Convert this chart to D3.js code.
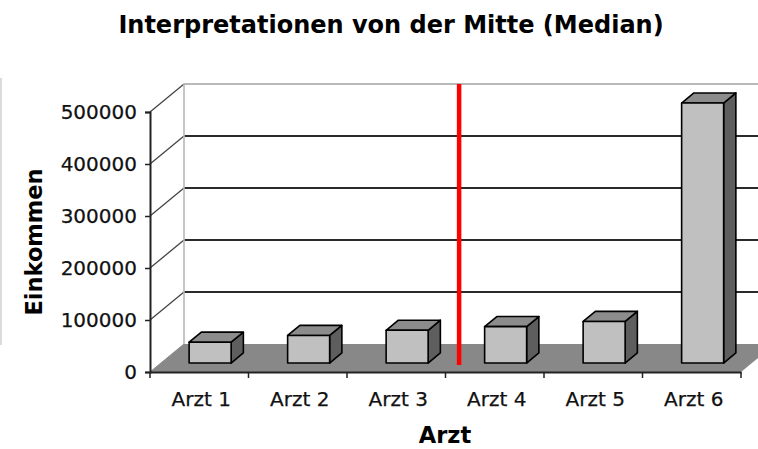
<!DOCTYPE html>
<html>
<head>
<meta charset="utf-8">
<script src="https://cdn.jsdelivr.net/npm/d3@7"></script>
<style>
  html, body { margin: 0; padding: 0; background: #fff; }
  svg { display: block; }
</style>
</head>
<body>
<svg id="chart" width="758" height="449"></svg>
<script>
// Einkommen je Arzt
const categories = ["Arzt 1", "Arzt 2", "Arzt 3", "Arzt 4", "Arzt 5", "Arzt 6"];
const einkommen = [40000, 53000, 63000, 70000, 80000, 500000];
const yTicks = [0, 100000, 200000, 300000, 400000, 500000];
// Median liegt zwischen dem 3. und 4. Arzt
const medianBetween = ["Arzt 3", "Arzt 4"];

const svg = d3.select("#chart");
const W = 758, H = 449;
const FONT = "'DejaVu Sans', Verdana, sans-serif";

// front plane scales
const x = d3.scaleBand().domain(categories).range([150, 741]).padding(0);
const y = d3.scaleLinear().domain([0, 500000]).range([372, 112]);
// depth of the 3D box (offset from front to back plane)
const depth = { dx: 34, dy: -28 };
const bw = x.bandwidth();
const barW = 42;
const f0 = 0.32, f1 = 0.68;   // front / back of bars as fraction of depth

// faint frame line on the left edge
svg.append("line")
  .attr("x1", 1).attr("x2", 1).attr("y1", 78).attr("y2", 345)
  .attr("stroke", "#cfcfcf").attr("stroke-width", 1.5);

// floor
const x0 = x.range()[0], x1 = x.range()[1];
svg.append("polygon")
  .attr("points", [
    [x0, y(0)], [x1, y(0)], [x1 + depth.dx, y(0) + depth.dy], [x0 + depth.dx, y(0) + depth.dy]
  ].map(p => p.join(",")).join(" "))
  .attr("fill", "#888");

// back wall gridlines and side wall lines
const grid = svg.append("g");
yTicks.filter(v => v > 0).forEach(v => {
  const top = v === d3.max(yTicks);
  grid.append("line")
    .attr("x1", x0 + depth.dx).attr("x2", W + 40)
    .attr("y1", y(v) + depth.dy).attr("y2", y(v) + depth.dy)
    .attr("stroke", top ? "#b8b8b8" : "#2a2a2a").attr("stroke-width", 1.8);
  grid.append("line")
    .attr("x1", x0).attr("y1", y(v))
    .attr("x2", x0 + depth.dx).attr("y2", y(v) + depth.dy)
    .attr("stroke", "#444").attr("stroke-width", 1.3);
});
// back wall left edge
grid.append("line")
  .attr("x1", x0 + depth.dx).attr("x2", x0 + depth.dx)
  .attr("y1", y(0) + depth.dy).attr("y2", y(500000) + depth.dy)
  .attr("stroke", "#b8b8b8").attr("stroke-width", 1.6);
// side wall lower edge
grid.append("line")
  .attr("x1", x0).attr("y1", y(0))
  .attr("x2", x0 + depth.dx).attr("y2", y(0) + depth.dy)
  .attr("stroke", "#888").attr("stroke-width", 1);

// median marker
const medX = x(medianBetween[1]) + depth.dx * 0.4;
svg.append("line")
  .attr("x1", medX).attr("x2", medX)
  .attr("y1", y(500000) + depth.dy).attr("y2", y(0) + depth.dy * 0.25)
  .attr("stroke", "#ff0000").attr("stroke-width", 4.5);

// y axis
const yAxis = svg.append("g")
  .attr("transform", `translate(${x0},0)`)
  .call(d3.axisLeft(y).tickValues(yTicks).tickSize(5).tickPadding(8).tickFormat(d3.format("d")));
yAxis.select(".domain").attr("stroke", "#222").attr("stroke-width", 2);
yAxis.selectAll(".tick line").attr("stroke", "#222").attr("stroke-width", 1.5);
yAxis.selectAll(".tick text")
  .attr("font-family", FONT).attr("font-size", 20).attr("fill", "#111")
  .attr("stroke", "#111").attr("stroke-width", 0.25);

// x axis: line along floor front edge, ticks at category boundaries
const xAxis = svg.append("g")
  .attr("transform", `translate(0,${y(0)})`)
  .call(d3.axisBottom(x).tickSize(0).tickPadding(20));
xAxis.select(".domain").attr("stroke", "#222").attr("stroke-width", 2);
xAxis.selectAll(".tick text")
  .attr("font-family", FONT).attr("font-size", 20).attr("fill", "#111")
  .attr("stroke", "#111").attr("stroke-width", 0.25)
  .attr("dx", 2);
const bounds = categories.map(c => x(c)).concat([x1]);
xAxis.selectAll(".bound").data(bounds).join("line")
  .attr("class", "bound")
  .attr("x1", d => d).attr("x2", d => d).attr("y1", 0).attr("y2", 6)
  .attr("stroke", "#222").attr("stroke-width", 1.5);

// 3D bars
const bars = svg.append("g");
categories.forEach((c, i) => {
  const v = einkommen[i];
  const L = x(c) + (bw - barW) / 2 + depth.dx * f0;
  const R = L + barW;
  const B = y(0) + depth.dy * f0;
  const T = y(v) + depth.dy * f0;
  const ddx = depth.dx * (f1 - f0), ddy = depth.dy * (f1 - f0);
  const poly = pts => pts.map(p => p.join(",")).join(" ");
  const g = bars.append("g").attr("stroke", "#000").attr("stroke-width", 1.6).attr("stroke-linejoin", "round");
  // side
  g.append("polygon").attr("fill", "#5e5e5e")
    .attr("points", poly([[R, T], [R + ddx, T + ddy], [R + ddx, B + ddy], [R, B]]));
  // top
  g.append("polygon").attr("fill", "#8c8c8c")
    .attr("points", poly([[L, T], [R, T], [R + ddx, T + ddy], [L + ddx, T + ddy]]));
  // front
  g.append("rect").attr("fill", "#c0c0c0")
    .attr("x", L).attr("y", T).attr("width", barW).attr("height", B - T);
});

// titles
svg.append("text")
  .attr("x", 391).attr("y", 33).attr("text-anchor", "middle")
  .attr("font-family", FONT).attr("font-weight", "bold").attr("font-size", 24)
  .attr("fill", "#000")
  .text("Interpretationen von der Mitte (Median)");

svg.append("text")
  .attr("transform", "translate(42,242) rotate(-90)")
  .attr("text-anchor", "middle")
  .attr("font-family", FONT).attr("font-weight", "bold").attr("font-size", 22.5)
  .attr("fill", "#000")
  .text("Einkommen");

svg.append("text")
  .attr("x", 445).attr("y", 443).attr("text-anchor", "middle")
  .attr("font-family", FONT).attr("font-weight", "bold").attr("font-size", 22.5)
  .attr("fill", "#000")
  .text("Arzt");
</script>
</body>
</html>
